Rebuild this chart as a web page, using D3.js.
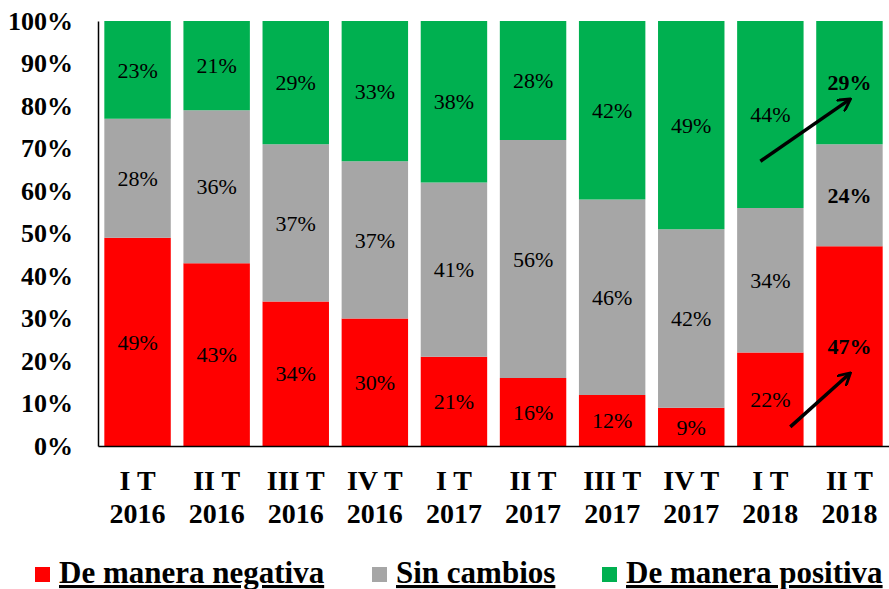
<!DOCTYPE html>
<html>
<head>
<meta charset="utf-8">
<script src="https://cdn.jsdelivr.net/npm/d3@7"></script>
<style>
  body { margin: 0; background: #fff; }
  svg text { font-family: "Liberation Serif", "Times New Roman", serif; }
</style>
</head>
<body>
<svg width="889" height="589"></svg>
<script>
const QUARTERS = ['I T', 'II T', 'III T', 'IV T', 'I T', 'II T', 'III T', 'IV T', 'I T', 'II T'];
const YEARS = ['2016', '2016', '2016', '2016', '2017', '2017', '2017', '2017', '2018', '2018'];
const NEGATIVA = [49, 43, 34, 30, 21, 16, 12, 9, 22, 47];
const SIN_CAMBIOS = [28, 36, 37, 37, 41, 56, 46, 42, 34, 24];
const POSITIVA = [23, 21, 29, 33, 38, 28, 42, 49, 44, 29];
const SERIES = ['De manera negativa', 'Sin cambios', 'De manera positiva'];
const Y_TICKS = [0, 10, 20, 30, 40, 50, 60, 70, 80, 90, 100];

const COLORS = ['#ff0000', '#a6a6a6', '#00b050'];
const M = {left: 98, right: 889, top: 21, bottom: 446};

const rows = QUARTERS.map((q, i) => ({
  key: i, q: q, year: YEARS[i],
  'De manera negativa': NEGATIVA[i], 'Sin cambios': SIN_CAMBIOS[i], 'De manera positiva': POSITIVA[i]
}));

const x = d3.scaleBand().domain(rows.map(d => d.key)).range([M.left, M.right]).paddingInner(0.16).paddingOuter(0.08);
const y = d3.scaleLinear().domain([0, 100]).range([M.bottom, M.top]);

const svg = d3.select('svg');

const stacked = d3.stack().keys(SERIES)(rows);

const layers = svg.selectAll('.layer')
  .data(stacked)
  .enter()
  .append('g')
  .attr('fill', (d, i) => COLORS[i]);

layers.selectAll('rect')
  .data(d => d)
  .enter()
  .append('rect')
  .attr('x', d => x(d.data.key))
  .attr('width', x.bandwidth())
  .attr('y', d => y(d[1]))
  .attr('height', d => y(d[0]) - y(d[1]));

// value labels, last bar in bold
layers.each(function(s) {
  d3.select(this).selectAll('text')
    .data(s)
    .enter()
    .append('text')
    .attr('x', d => x(d.data.key) + x.bandwidth() / 2)
    .attr('y', d => y((d[0] + d[1]) / 2))
    .attr('dy', '0.35em')
    .attr('text-anchor', 'middle')
    .attr('fill', '#000')
    .attr('font-size', 22)
    .attr('font-weight', d => d.data.key === 9 ? 'bold' : 'normal')
    .text(d => (d[1] - d[0]) + '%');
});

// axes
const yAxis = svg.append('g')
  .attr('transform', `translate(${M.left},0)`)
  .call(d3.axisLeft(y).tickValues(Y_TICKS).tickSize(0).tickPadding(25).tickFormat(d => d + '%'));
yAxis.select('.domain').attr('stroke', '#000').attr('stroke-width', 1.5);
yAxis.selectAll('text').attr('font-size', 26).attr('font-weight', 'bold').attr('fill', '#000');

const xAxis = svg.append('g')
  .attr('transform', `translate(0,${M.bottom})`)
  .call(d3.axisBottom(x).tickSize(0).tickFormat(''));
xAxis.select('.domain').attr('stroke', '#000').attr('stroke-width', 1.5);

const xl = svg.append('g')
  .selectAll('text')
  .data(rows)
  .enter()
  .append('text')
  .attr('text-anchor', 'middle')
  .attr('font-size', 28)
  .attr('font-weight', 'bold');
xl.append('tspan').attr('x', d => x(d.key) + x.bandwidth() / 2).attr('y', 490).text(d => d.q);
xl.append('tspan').attr('x', d => x(d.key) + x.bandwidth() / 2).attr('y', 523).text(d => d.year);

// arrows
svg.append('defs').append('marker')
  .attr('id', 'head')
  .attr('viewBox', '0 0 10 10')
  .attr('refX', 8).attr('refY', 5)
  .attr('markerWidth', 4).attr('markerHeight', 4)
  .attr('orient', 'auto')
  .append('path')
  .attr('d', 'M0,0 L9,5 L0,10')
  .attr('fill', 'none')
  .attr('stroke', '#000')
  .attr('stroke-width', 2);

// [from bar, from frac, from %, to bar, to frac, to %]
const ARROWS = [[8, 0.35, 67, 9, 0.5, 81.5], [8, 0.8, 4.5, 9, 0.5, 17]];
ARROWS.forEach(a => {
  svg.append('line')
    .attr('x1', x(a[0]) + x.bandwidth() * a[1]).attr('y1', y(a[2]))
    .attr('x2', x(a[3]) + x.bandwidth() * a[4]).attr('y2', y(a[5]))
    .attr('stroke', '#000')
    .attr('stroke-width', 3.5)
    .attr('marker-end', 'url(#head)');
});

// legend
const LEGEND_X = [35, 372, 602];
const lg = svg.append('g')
  .selectAll('g')
  .data(SERIES)
  .enter()
  .append('g')
  .attr('transform', (d, i) => `translate(${LEGEND_X[i]},567)`);
lg.append('rect').attr('width', 15).attr('height', 15).attr('fill', (d, i) => COLORS[i]);
lg.append('text')
  .attr('x', 24).attr('y', 16)
  .attr('font-size', 31)
  .attr('font-weight', 'bold')
  .attr('text-decoration', 'underline')
  .text(d => d);
</script>
</body>
</html>
